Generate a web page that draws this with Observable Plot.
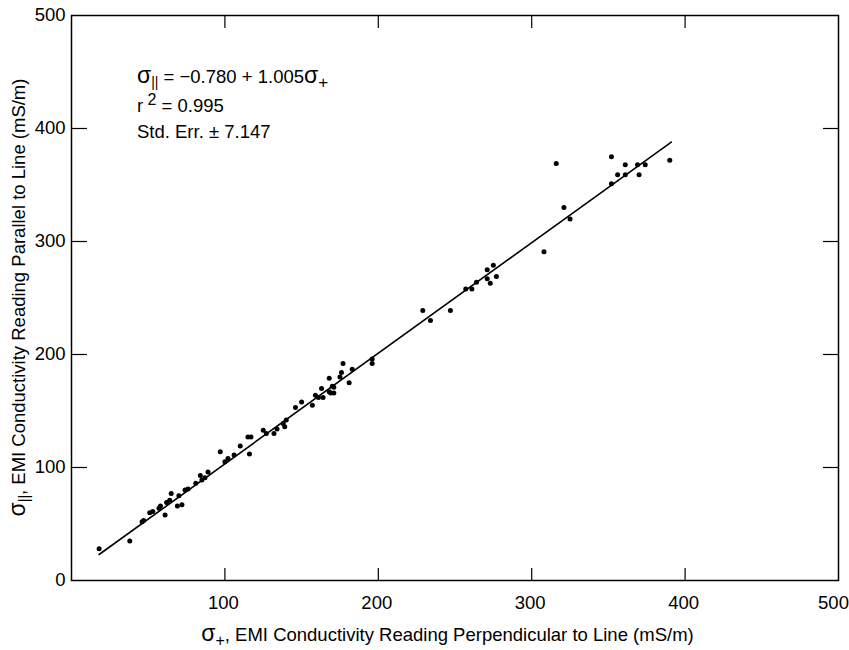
<!DOCTYPE html>
<html><head><meta charset="utf-8">
<script src="https://cdn.jsdelivr.net/npm/d3@7"></script>
<script src="https://cdn.jsdelivr.net/npm/@observablehq/plot@0.6"></script>
<style>body{margin:0;background:#fff;font-family:"Liberation Sans",Arial,sans-serif}</style>
</head><body><div id="chart"></div>
<script>
// EMI conductivity readings (mS/m)
const perpX = [18,38,46,47,51,53,57,58,61,62,64,65,69,72,70,74,76,81,84,85,87,89,
  97,100,102,106,110,116,115,117,125,127,132,134,139,138,140,146,150,157,159,161,164,163,
  168,168,170,171,169,171,175,176,177,181,183,196,196,229,234,247,257,261,264,271,275,271,
  273,277,308,316,321,325,352,356,352,361,361,369,370,374,390];
const paraY = [28,35,52,53,60,61,64,66,58,69,71,77,66,67,75,80,81,86,93,89,91,96,
  114,105,108,111,119,112,127,127,133,130,130,134,136,139,142,153,158,155,164,162,162,170,
  167,179,172,171,166,166,180,184,192,175,187,196,192,239,230,239,258,258,264,275,279,267,
  263,269,291,369,330,320,375,359,351,368,359,368,359,368,372];
// regression line end points as drawn
const fitX = [18, 391];
const fitY = [23, 388];
const xTicks = [100, 200, 300, 400];
const xTickLabels = [100, 200, 300, 400];
const xEndLabel = [500];
const yTicks = [100, 200, 300, 400];
const yTickLabels = [0, 100, 200, 300, 400, 500];

const points = perpX.map((x, i) => ({x, y: paraY[i]}));
const fit = fitX.map((x, i) => ({x, y: fitY[i]}));

const font = "Liberation Sans, Arial, Helvetica, sans-serif";
const fs = 18.5;
const chart = Plot.plot({
  width: 849, height: 650,
  marginLeft: 71, marginRight: 11, marginTop: 15, marginBottom: 70,
  x: {domain: [0, 500]},
  y: {domain: [0, 500]},
  style: {fontFamily: font, fontSize: fs + "px", color: "#000", background: "#fff", overflow: "visible"},
  marks: [
    Plot.axisX(xTicks, {anchor: "bottom", tickSize: -12, tickFormat: () => "", label: null, strokeWidth: 1.2}),
    Plot.axisX(xTicks, {anchor: "top", tickSize: -12, tickFormat: () => "", label: null, strokeWidth: 1.2}),
    Plot.axisX(xTickLabels, {anchor: "bottom", tickSize: 0, tickPadding: 15, dx: -1.5, label: null, fontSize: fs}),
    Plot.axisX(xEndLabel, {anchor: "bottom", tickSize: 0, tickPadding: 15, dx: -5, label: null, fontSize: fs}),
    Plot.axisY(yTicks, {anchor: "left", tickSize: -16, tickFormat: () => "", label: null, strokeWidth: 1.2}),
    Plot.axisY(yTicks, {anchor: "right", tickSize: -16, tickFormat: () => "", label: null, strokeWidth: 1.2}),
    Plot.axisY(yTickLabels, {anchor: "left", tickSize: 0, tickPadding: 6, label: null, fontSize: fs}),
    Plot.frame({stroke: "#000", strokeWidth: 1.5}),
    Plot.line(fit, {x: "x", y: "y", stroke: "#000", strokeWidth: 1.6}),
    Plot.dot(points, {x: "x", y: "y", r: 2.5, fill: "#000", stroke: "none"})
  ]
});
document.getElementById("chart").append(chart);

// annotations with sub/superscripts
const svg = d3.select(chart);
const sx = chart.scale("x"), sy = chart.scale("y");
const ann = svg.append("g").attr("font-family", font).attr("font-size", fs)
  .attr("fill", "#000").attr("text-anchor", "start");
const ax = sx.apply(43);
function line(yPx) { return ann.append("text").attr("x", ax).attr("y", yPx); }
let t = line(83);
t.append("tspan").attr("font-size", 23).text("σ");
t.append("tspan").attr("font-size", 14).attr("dy", 4).text("||");
t.append("tspan").attr("dy", -4).text(" = \u22120.780 + 1.005");
t.append("tspan").attr("font-size", 23).text("σ");
t.append("tspan").attr("font-size", 17).attr("dy", 5).text("+");
t = line(112);
t.append("tspan").text("r");
t.append("tspan").attr("font-size", 16).attr("dy", -7).text(" 2");
t.append("tspan").attr("dy", 7).text(" = 0.995");
t = line(138);
t.text("Std. Err. \u00b1 7.147");

// axis labels
const xr = sx.range, yr = sy.range;
const xl = svg.append("text").attr("font-family", font).attr("font-size", fs)
  .attr("text-anchor", "middle").attr("x", (xr[0] + xr[1]) / 2 - 7).attr("y", 641);
xl.append("tspan").attr("font-size", 23).text("σ");
xl.append("tspan").attr("font-size", 16).attr("dy", 5).text("+");
xl.append("tspan").attr("dy", -5).text(", EMI Conductivity Reading Perpendicular to Line (mS/m)");

const ycx = 25, ycy = (yr[0] + yr[1]) / 2;
const yl = svg.append("text").attr("font-family", font).attr("font-size", fs)
  .attr("text-anchor", "middle").attr("transform", `translate(${ycx},${ycy}) rotate(-90)`);
yl.append("tspan").attr("font-size", 23).text("σ");
yl.append("tspan").attr("font-size", 14).attr("dy", 4).text("||");
yl.append("tspan").attr("dy", -4).text(", EMI Conductivity Reading Parallel to Line (mS/m)");
</script>
</body></html>
